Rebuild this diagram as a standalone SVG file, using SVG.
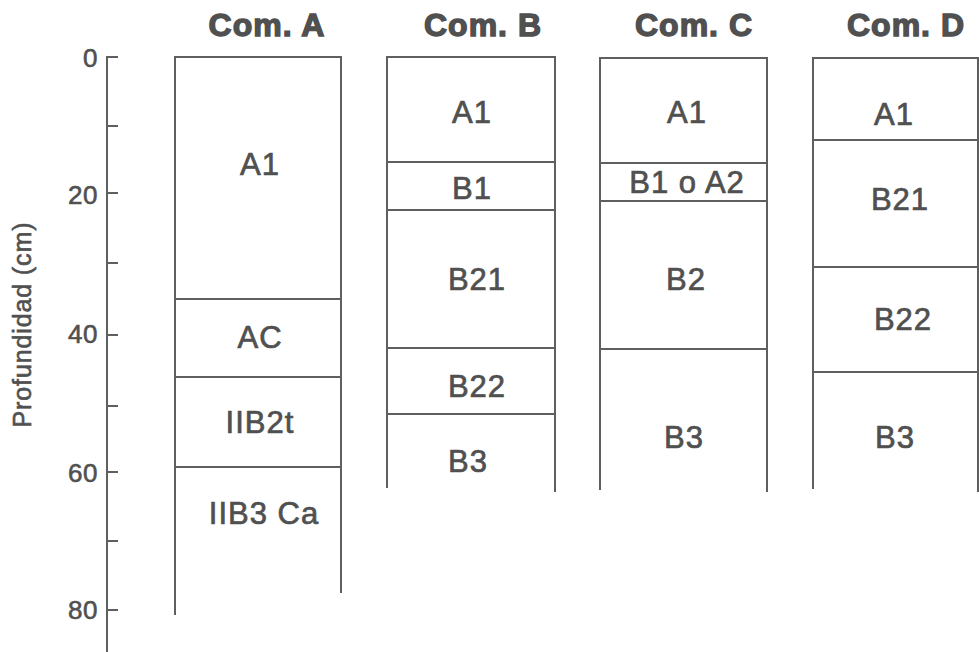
<svg xmlns="http://www.w3.org/2000/svg" width="979" height="652" viewBox="0 0 979 652">
<style>
.ln{stroke:#5f5f5f;stroke-width:2;fill:none}
text{font-family:"Liberation Sans",Arial,sans-serif;fill:#505050;stroke:#505050}
.t{font-size:31px;text-anchor:middle;letter-spacing:1px;stroke-width:0.7}
.h{font-size:32px;font-weight:bold;text-anchor:middle;letter-spacing:1px;stroke-width:1.4}
.n{font-size:26px;text-anchor:end;letter-spacing:0.5px;stroke-width:0.6}
.y{font-size:25px;text-anchor:middle;stroke-width:0.6}
</style>
<rect width="979" height="652" fill="#fff"/>
<g id="axis">
<path class="ln" d="M107 56V652M107 57H118M107 126H118M107 193H118M107 263H118M107 335H118M107 406H118M107 472H118M107 541H118M107 610H118"/>
<text class="n" x="98" y="67">0</text>
<text class="n" x="98" y="204">20</text>
<text class="n" x="98" y="343">40</text>
<text class="n" x="98" y="482">60</text>
<text class="n" x="98" y="619">80</text>
<text class="y" transform="translate(31,325) rotate(-90)" textLength="205" lengthAdjust="spacing">Profundidad (cm)</text>
</g>
<g id="comA">
<text class="h" x="267" y="36">Com. A</text>
<path class="ln" d="M175 615V57H341V593M175 299H341M175 377H341M175 467H341"/>
<text class="t" x="260" y="175">A1</text>
<text class="t" x="260" y="348">AC</text>
<text class="t" x="260" y="433">IIB2t</text>
<text class="t" x="264" y="524">IIB3 Ca</text>
</g>
<g id="comB">
<text class="h" x="483" y="36">Com. B</text>
<path class="ln" d="M387 488V57H555V492M387 162H555M387 210H555M387 348H555M387 414H555"/>
<text class="t" x="472" y="123">A1</text>
<text class="t" x="472" y="199">B1</text>
<text class="t" x="477" y="290">B21</text>
<text class="t" x="477" y="397">B22</text>
<text class="t" x="468" y="472">B3</text>
</g>
<g id="comC">
<text class="h" x="694" y="36">Com. C</text>
<path class="ln" d="M600 490V58H767V492M600 163H767M600 201H767M600 349H767"/>
<text class="t" x="687" y="123">A1</text>
<text class="t" x="687" y="193">B1 o A2</text>
<text class="t" x="686" y="290">B2</text>
<text class="t" x="684" y="448">B3</text>
</g>
<g id="comD">
<text class="h" x="906" y="36">Com. D</text>
<path class="ln" d="M813 489V58H979M978 58V492M813 140H979M813 267H979M813 372H979"/>
<text class="t" x="894" y="125">A1</text>
<text class="t" x="900" y="210">B21</text>
<text class="t" x="903" y="330">B22</text>
<text class="t" x="895" y="448">B3</text>
</g>
</svg>
